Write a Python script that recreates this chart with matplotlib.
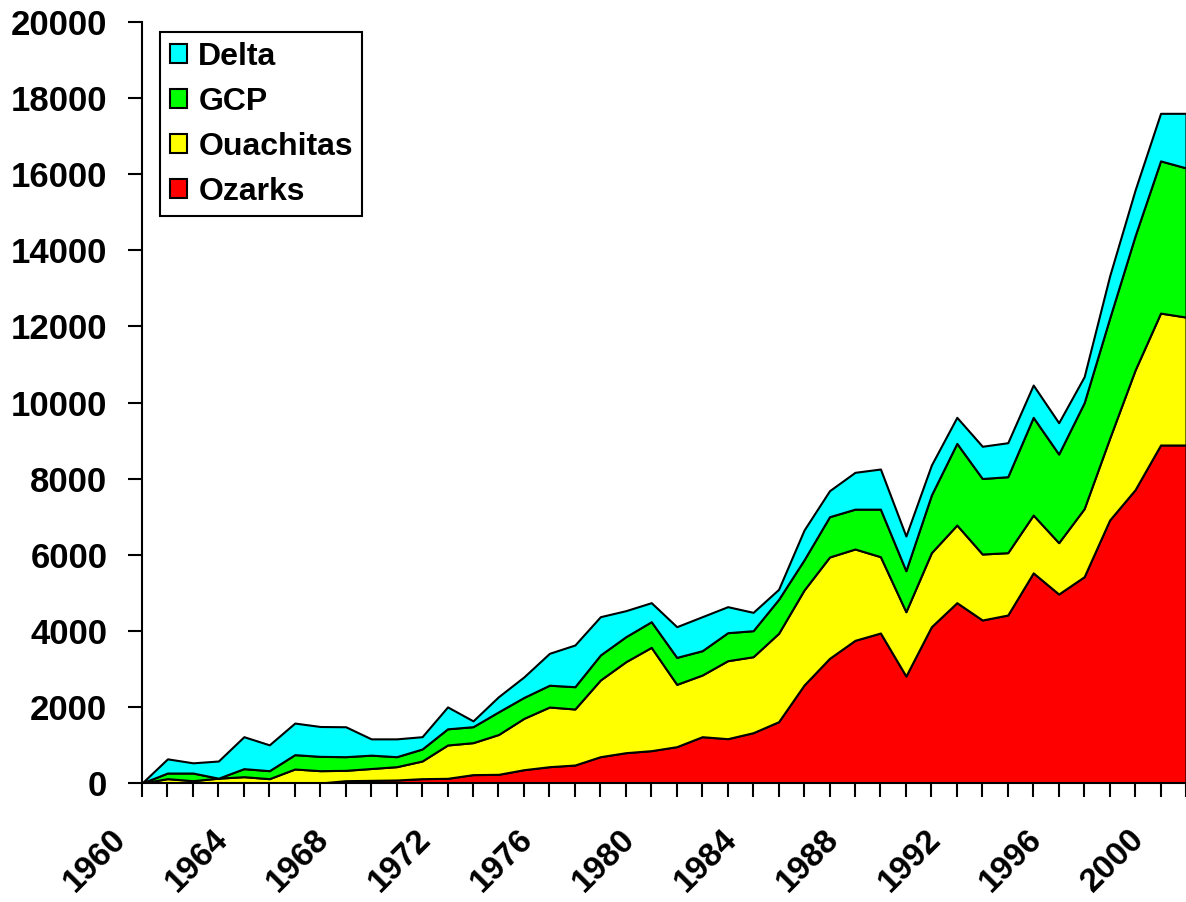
import matplotlib.pyplot as plt
import matplotlib.transforms as mtransforms
import numpy as np

plt.rcParams['font.family'] = ['Liberation Sans', 'DejaVu Sans']
plt.rcParams['font.weight'] = 'bold'

# anni
years = list(range(1960, 2002))

# valori per regione (impilati dal basso)
ozarks = [0, 0, 0, 0, 0, 0, 0, 0, 61, 70,
          79, 114, 123, 220, 228, 350, 429, 473, 692, 797,
          850, 955, 1217, 1165, 1322, 1611, 2575, 3277, 3750, 3942,
          2812, 4108, 4739, 4284, 4415, 5523, 4967, 5422, 6912, 7709,
          8883, 8883]
ouachitas = [0, 114, 61, 127, 166, 114, 368, 324, 272, 311,
             350, 464, 876, 840, 1047, 1350, 1568, 1472, 2015, 2391,
             2715, 1638, 1621, 2049, 1997, 2323, 2497, 2663, 2400, 2006,
             1690, 1945, 2041, 1734, 1638, 1520, 1349, 1788, 2146, 3144,
             3467, 3362]
gcp = [0, 148, 201, 0, 211, 210, 377, 376, 359, 351,
       263, 315, 425, 420, 595, 550, 573, 586, 657, 657,
       674, 709, 639, 736, 684, 893, 793, 1059, 1047, 1249,
       1078, 1516, 2146, 1985, 1997, 2567, 2330, 2785, 3156, 3527,
       4000, 3921]
delta = [0, 373, 268, 451, 840, 679, 830, 785, 786, 428,
         468, 324, 576, 153, 398, 540, 838, 1096, 1007, 684,
         500, 806, 894, 684, 482, 263, 784, 683, 968, 1055,
         911, 788, 684, 847, 893, 849, 823, 683, 1110, 1204,
         1250, 1434]

labels = ['Ozarks', 'Ouachitas', 'GCP', 'Delta']
colors = ['#FF0000', '#FFFF00', '#00FF00', '#00FFFF']

y_ticks = list(range(0, 20001, 2000))
x_labels = [str(y) if y % 4 == 0 else '' for y in years]

fig = plt.figure(figsize=(11.86, 9.02), dpi=100)
ax = fig.add_axes([142 / 1186, 119 / 902, 1044 / 1186, 761 / 902])

polys = ax.stackplot(years, ozarks, ouachitas, gcp, delta,
                     colors=colors, labels=labels,
                     edgecolor='black', linewidth=1.5)

ax.set_xlim(1960, 2001)
ax.set_ylim(0, 20000)
ax.set_yticks(y_ticks)
ax.set_yticklabels([str(v) for v in y_ticks], fontsize=25, fontweight='bold')
ax.set_xticks(years)
ax.set_xticklabels(x_labels, fontsize=24, fontweight='bold',
                   rotation=45, ha='right', va='top')

ax.tick_params(axis='both', direction='out', length=10, width=1.5, color='black')
ax.tick_params(axis='y', pad=15)
ax.tick_params(axis='x', pad=19)

# sposta le etichette dell'asse x un po' a sinistra
offset = mtransforms.ScaledTranslation(-10 / 100, 0, fig.dpi_scale_trans)
for lab in ax.get_xticklabels():
    lab.set_transform(lab.get_transform() + offset)

for side in ['top', 'right']:
    ax.spines[side].set_visible(False)
for side in ['left', 'bottom']:
    ax.spines[side].set_linewidth(1.5)
    ax.spines[side].set_color('black')

handles, labs = ax.get_legend_handles_labels()
leg = ax.legend(handles[::-1], labs[::-1], loc='upper left',
                bbox_to_anchor=(0.0172, 0.9869), borderaxespad=0,
                fancybox=False, edgecolor='black', framealpha=1,
                prop={'size': 23, 'weight': 'bold'},
                handlelength=0.55, handleheight=0.55,
                handletextpad=0.35, labelspacing=0.47, borderpad=0.3)
leg.get_frame().set_linewidth(1.5)

fig.savefig('out.png', dpi=100)
